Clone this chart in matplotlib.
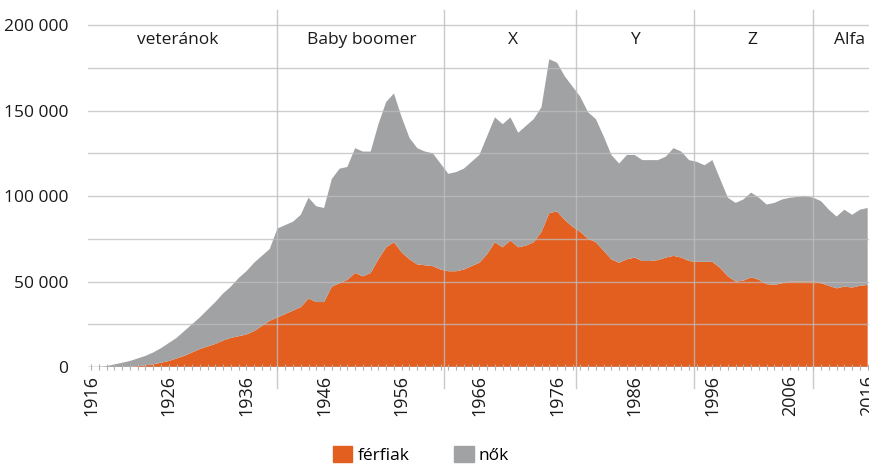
import numpy as np
import matplotlib
matplotlib.use("Agg")
import matplotlib.pyplot as plt
from matplotlib.patches import Patch
from matplotlib.ticker import FuncFormatter

plt.rcParams['font.family'] = ['Open Sans', 'DejaVu Sans']

# születési év
years = np.arange(1916, 2017)

# összesen (ezer fő), leolvasva
total = [0, 0, 0.5, 1.5, 2.5, 3.5, 5, 6.5, 8.5, 11,
         14, 17, 21, 25, 29, 33.5, 38, 43, 47, 52,
         56, 61, 65, 69, 81, 83, 85, 89, 99, 94,
         93, 110, 116, 117, 128, 126, 126, 142, 155, 160,
         146, 134, 128, 126, 125, 119, 113, 114, 116, 120,
         124, 135, 146, 142, 146, 137, 141, 145, 152, 180,
         178, 170, 164, 158, 149, 145, 135, 124, 119, 124,
         124, 121, 121, 121, 123, 128, 126, 121, 120, 118,
         121, 110, 99, 96, 98, 102, 99, 95, 96, 98,
         99, 99.5, 100, 99, 97, 92, 88, 92, 89, 92,
         93]

# férfiak (ezer fő)
men = [0, 0, 0, 0, 0, 0, 0.5, 1, 1.5, 2.5,
       3.5, 5, 6.5, 8.5, 10.5, 12, 13.5, 15.5, 17, 18,
       19, 21, 24, 27, 29, 31, 33, 35, 40, 38,
       38, 47, 49, 51, 55, 53, 55, 63, 70, 73,
       67, 63, 60, 59.5, 59, 57, 56, 56, 57, 59,
       61, 66, 73, 70, 74, 70, 71, 73, 79, 90,
       91, 86, 82, 79, 75, 73, 68, 63, 61, 63,
       64, 62, 62, 62.5, 64, 65, 64, 62, 61.5, 61.5,
       61.5, 58, 53, 50, 50.5, 52.5, 51, 48.5, 48, 49,
       50, 50, 50, 50, 49, 47.5, 46, 47, 46.5, 47.5,
       48]

men = np.array(men) * 1000
women = np.array(total) * 1000 - men

generations = ['veteránok', 'Baby boomer', 'X', 'Y', 'Z', 'Alfa']
gen_label_x = [1927.2, 1950.9, 1970.3, 1986, 2001.2, 2013.7]
gen_bounds = [1940, 1961.5, 1978.5, 1993.7, 2008.9]

orange = '#E35F20'
grey = '#A1A2A4'
line_c = '#BDBDBD'
text_c = '#1A1A1A'

fig = plt.figure(figsize=(8.7, 4.65), dpi=100)
ax = fig.add_axes([88 / 870, 1 - 367 / 465, 782 / 870, 357 / 465])

ax.stackplot(years, men, women, colors=[orange, grey], linewidth=0, zorder=1)

ax.set_xlim(1915.6, 2016.3)
ax.set_ylim(0, 208800)

# rácsvonalak a területek fölött
for v in np.arange(0, 200001, 25000):
    ax.axhline(v, color=line_c, lw=1, alpha=0.75, zorder=3)
ax.axhline(0, color='#B0B0B0', lw=1, zorder=4)

for b in gen_bounds:
    ax.plot([b, b], [-12300, 208800], color=line_c, lw=1, alpha=0.8,
            zorder=3, clip_on=False)

for name, gx in zip(generations, gen_label_x):
    ax.text(gx, 191000, name, ha='center', va='center', fontsize=12.5,
            color=text_c, zorder=5)

for s in ax.spines.values():
    s.set_visible(False)

ax.set_yticks(np.arange(0, 200001, 50000))
ax.yaxis.set_major_formatter(FuncFormatter(lambda v, p: f"{v:,.0f}".replace(',', ' ')))
ax.tick_params(axis='y', length=0, pad=14, labelsize=12.5, labelcolor=text_c)

ax.set_xticks(np.arange(1916, 2017, 10))
ax.set_xticks(years, minor=True)
ax.tick_params(axis='x', which='both', direction='inout', length=5, width=0.8,
               color='#B0B0B0', labelsize=13, labelrotation=90, pad=3,
               labelcolor=text_c)

handles = [Patch(color=orange, label='férfiak'), Patch(color=grey, label='nők')]
fig.legend(handles=handles, loc='center', bbox_to_anchor=(0.484, 0.022), ncol=2,
           frameon=False, fontsize=12.5, handlelength=1.1, handleheight=1.1,
           handletextpad=0.3, columnspacing=2.6)

fig.savefig('out.png', dpi=100)
